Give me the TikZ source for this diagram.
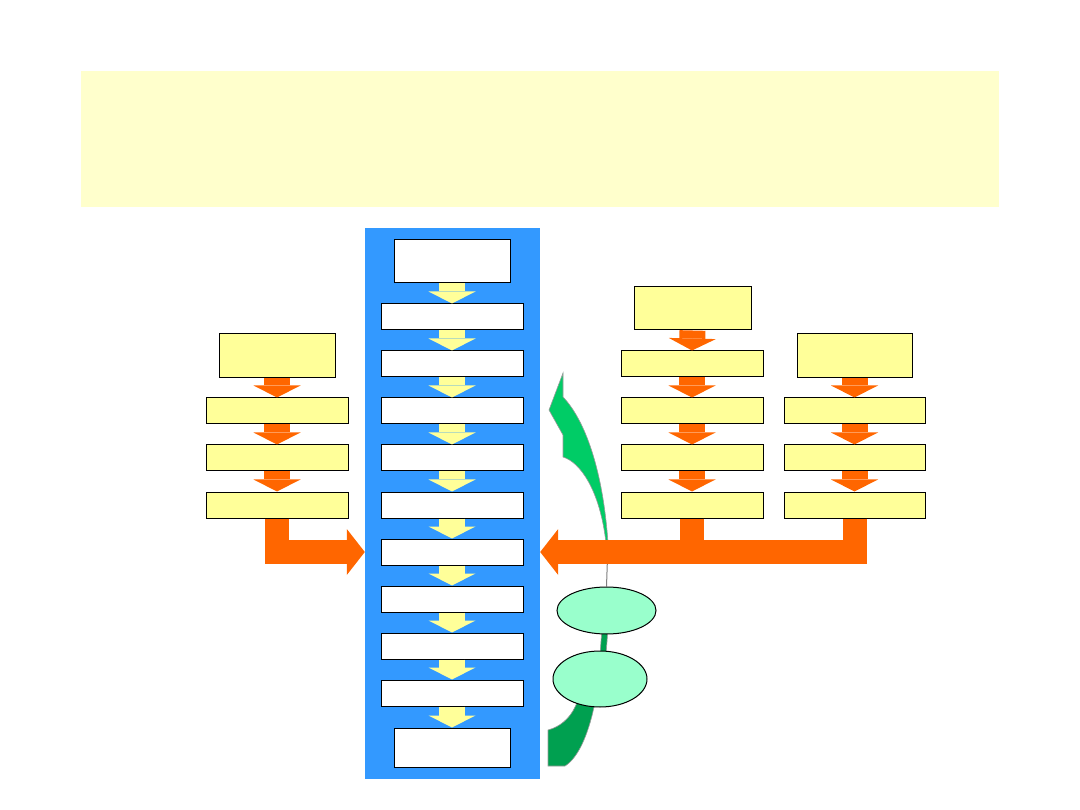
\documentclass[tikz,border=0pt]{standalone}
\usepackage{tikz}
\usetikzlibrary{arrows.meta,positioning,shapes.geometric,backgrounds}
\definecolor{bandyellow}{HTML}{FFFFCC}
\definecolor{colblue}{HTML}{3399FF}
\definecolor{boxyellow}{HTML}{FFFF99}
\definecolor{feedorange}{HTML}{FF6600}
\definecolor{loopgreen}{HTML}{00CC66}
\definecolor{tailgreen}{HTML}{00A050}
\definecolor{ovalgreen}{HTML}{99FFCC}

\begin{document}
\begin{tikzpicture}[
  x=1pt,y=-1pt,
  stage/.style={draw,line width=1pt,fill=white,minimum width=142pt,minimum height=26pt,inner sep=0pt},
  endstage/.style={stage,minimum width=116pt},
  src/.style={stage,fill=boxyellow},
  topsrc/.style={src,minimum width=116pt,minimum height=44pt},
  flow/.style={color=boxyellow,line width=26pt,-{Triangle[width=47pt,length=12pt,line width=0pt]}},
  feed/.style={flow,color=feedorange},
  bus/.style={color=feedorange,line width=24pt,line join=miter,-{Triangle[width=46pt,length=18pt,line width=0pt]}},
  oval/.style={ellipse,draw,line width=1pt,fill=ovalgreen,inner sep=0pt}
]
\useasboundingbox (0,0) rectangle (1080,810);
\node[fill=bandyellow,minimum width=918pt,minimum height=136pt,inner sep=0pt] (band) at (540,139) {};
\node[fill=colblue,minimum width=175pt,minimum height=551pt,inner sep=0pt] (col) at (452.5,503.5) {};
% main column
\node[endstage,minimum height=43pt] (c0) at (452,261.5) {};
\foreach \i in {1,...,9}
  \node[stage] (c\i) at (452,{317+47*(\i-1)}) {};
\node[endstage,minimum height=39pt] (c10) at (452,747.5) {};
\foreach \i [evaluate=\i as \j using int(\i+1)] in {0,...,9}
  \draw[flow] (c\i.south) -- (c\j.north);
% left feeder
\node[topsrc] (l0) at (277,356) {};
\foreach \i in {1,2,3}
  \node[src] (l\i) at (277,{411+47*(\i-1)}) {};
\foreach \i [evaluate=\i as \j using int(\i+1)] in {0,1,2}
  \draw[feed] (l\i.south) -- (l\j.north);
% right feeders
\node[topsrc,minimum width=117pt,minimum height=43pt] (m0) at (692.5,308.5) {};
\foreach \i in {1,...,4}
  \node[src] (m\i) at (692,{364+47*(\i-1)}) {};
\foreach \i [evaluate=\i as \j using int(\i+1)] in {0,...,3}
  \draw[feed] (m\i.south) -- (m\j.north);
\node[topsrc,minimum width=115pt] (s0) at (854.5,356) {};
\foreach \i in {1,2,3}
  \node[src,minimum width=141pt] (s\i) at (854.5,{411+47*(\i-1)}) {};
\foreach \i [evaluate=\i as \j using int(\i+1)] in {0,1,2}
  \draw[feed] (s\i.south) -- (s\j.north);
% joins into the column
\draw[bus] (l3.south) |- (col.west |- c6.center);
\draw[bus] (s3.south) |- (col.east |- c6.center);
\draw[bus,-] (m4.south) -- (m4.south |- c6.center);
% loop back
\node[oval,minimum width=99pt,minimum height=47pt] (e1) at (606.5,610.5) {};
\node[oval,minimum width=94pt,minimum height=56pt] (e2) at (600,679) {};
\coordinate (looptail) at (608,543);
\begin{pgfonlayer}{background}
\draw[gray,line width=1pt] (looptail) -- (e1.north);
\filldraw[fill=loopgreen,draw=gray!80,line width=0.6pt] (563,373) -- (549,410) -- (563,435) -- (563,457)
  .. controls (580,462) and (600,490) .. (606,543) -- (looptail)
  .. controls (603,470) and (585,420) .. (563,397) -- cycle;
\filldraw[fill=tailgreen,draw=gray!80,line width=0.6pt] (602,628) -- (608,628) -- (606,655) -- (594,707)
  .. controls (588,735) and (578,758) .. (565,766) -- (548,766) -- (548,730)
  .. controls (560,727) and (570,718) .. (575,707) -- (600,655) -- cycle;
\end{pgfonlayer}
\end{tikzpicture}
\end{document}
